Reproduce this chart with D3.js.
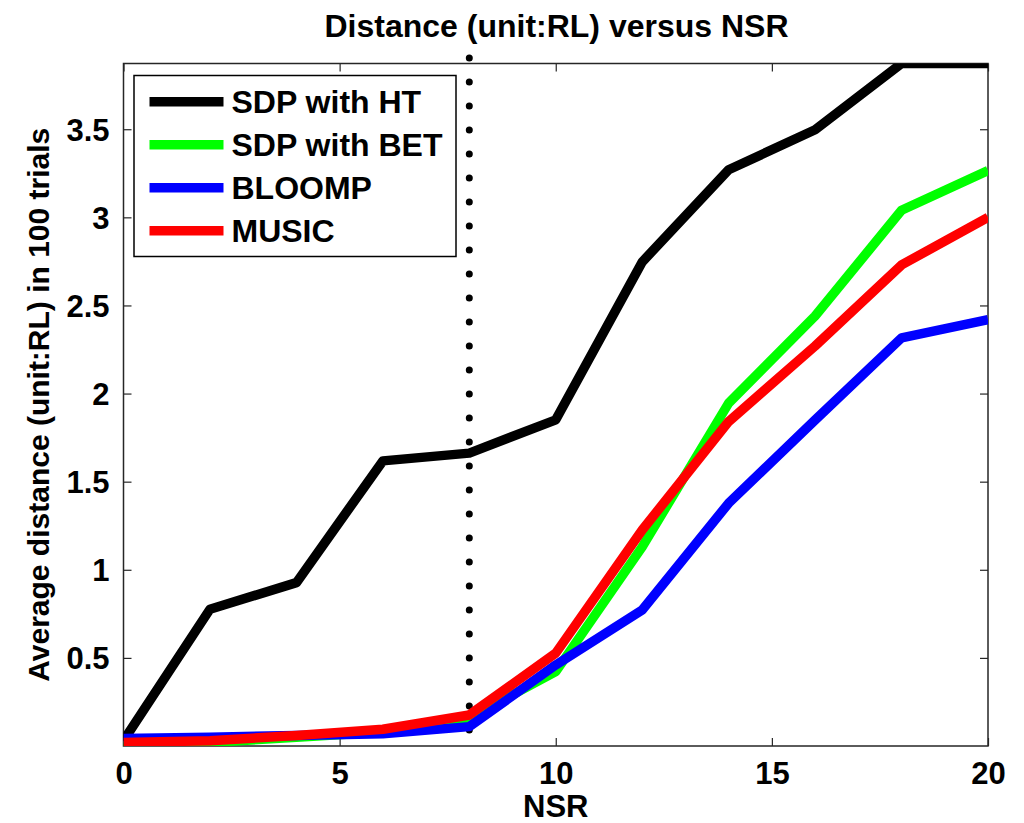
<!DOCTYPE html>
<html><head><meta charset="utf-8">
<script src="https://cdn.jsdelivr.net/npm/d3@7"></script>
<style>body{margin:0;background:#fff}text{font-family:"Liberation Sans",Arial,sans-serif;font-weight:bold;fill:#000}</style>
</head><body><svg id="c" width="1024" height="823"></svg>
<script>
const nsr = [0, 2, 4, 6, 8, 10, 12, 14, 16, 18, 20];
const seriesNames = ["SDP with HT", "SDP with BET", "BLOOMP", "MUSIC"];
const seriesColors = ["#000000", "#00ff00", "#0000ff", "#ff0000"];
const sdpHT  = [0.03, 0.776, 0.927, 1.618, 1.662, 1.851, 2.747, 3.27, 3.497, 3.873, 3.873];
const sdpBET = [0.0, 0.02, 0.05, 0.08, 0.16, 0.422, 1.13, 1.946, 2.44, 3.04, 3.265];
const bloomp = [0.042, 0.05, 0.06, 0.07, 0.11, 0.46, 0.772, 1.378, 1.85, 2.316, 2.42];
const music  = [0.02, 0.03, 0.06, 0.095, 0.176, 0.527, 1.226, 1.841, 2.27, 2.73, 3.0];
const xTicks = [0, 5, 10, 15, 20];
const yTicks = [0.5, 1, 1.5, 2, 2.5, 3, 3.5];
const xDomain = [0, 20];
const yDomain = [0, 3.873];
const vline = {x: 8, y0: 0.091, y1: 3.905};

const svg = d3.select("#c");
const L = 123.5, R = 988, T = 63.5, B = 746;
const x = d3.scaleLinear().domain(xDomain).range([L, R]);
const y = d3.scaleLinear().domain(yDomain).range([B, T]);
const FT = 31, FL = 32;

svg.append("defs").append("clipPath").attr("id","clip")
  .append("rect").attr("x",L).attr("y",T).attr("width",R-L).attr("height",B-T);

const axCol = "#262626";
const gx = svg.append("g").attr("transform",`translate(0,${B})`)
  .call(d3.axisBottom(x).tickValues(xTicks).tickSize(-8).tickPadding(16).tickFormat(d3.format("d")));
const gxt = svg.append("g").attr("transform",`translate(0,${T})`)
  .call(d3.axisTop(x).tickValues(xTicks).tickSize(-8).tickFormat(""));
const gy = svg.append("g").attr("transform",`translate(${L},0)`)
  .call(d3.axisLeft(y).tickValues(yTicks).tickSize(-8).tickPadding(14).tickFormat(d => String(d)));
const gyr = svg.append("g").attr("transform",`translate(${R},0)`)
  .call(d3.axisRight(y).tickValues(yTicks).tickSize(-8).tickFormat(""));
[gx,gxt,gy,gyr].forEach(g => {
  g.select(".domain").remove();
  g.selectAll(".tick line").attr("stroke",axCol).attr("stroke-width",1.2);
  g.selectAll("text").style("font-size",FT+"px").attr("fill","#000");
});
gy.selectAll(".tick text").attr("dy","0.35em");
gx.selectAll(".tick text").attr("dy","0.71em");
svg.append("rect").attr("x",L).attr("y",T).attr("width",R-L).attr("height",B-T)
  .attr("fill","none").attr("stroke",axCol).attr("stroke-width",1.5);

svg.append("line").attr("x1",x(vline.x)).attr("x2",x(vline.x))
  .attr("y1",y(vline.y0)).attr("y2",y(vline.y1))
  .attr("stroke","#000").attr("stroke-width",7).attr("stroke-linecap","round")
  .attr("stroke-dasharray","0 24");

const data = [sdpHT, sdpBET, bloomp, music];
const line = d3.line().x((d,i) => x(nsr[i])).y(d => y(d));
const gl = svg.append("g").attr("clip-path","url(#clip)");
data.forEach((vals, k) => {
  gl.append("path").attr("d", line(vals)).attr("fill","none")
    .attr("stroke", seriesColors[k]).attr("stroke-width",9.5)
    .attr("stroke-linejoin","round");
});

const lg = svg.append("g");
lg.append("rect").attr("x",134).attr("y",75.5).attr("width",322).attr("height",181)
  .attr("fill","#fff").attr("stroke","#000").attr("stroke-width",1.5);
seriesNames.forEach((n,k) => {
  const cy = 101.7 + k*43;
  lg.append("line").attr("x1",149.5).attr("x2",223.5).attr("y1",cy).attr("y2",cy)
    .attr("stroke",seriesColors[k]).attr("stroke-width",9.5);
  lg.append("text").attr("x",231.5).attr("y",cy).attr("dy","0.36em")
    .style("font-size",FL+"px").text(n);
});

svg.append("text").attr("x",556.5).attr("y",36.5).attr("text-anchor","middle")
  .style("font-size",FL+"px").text("Distance (unit:RL) versus NSR");
svg.append("text").attr("x",(L+R)/2).attr("y",816.5).attr("text-anchor","middle")
  .style("font-size",FT+"px").text("NSR");
svg.append("text").attr("transform",`translate(49,${(T+B)/2}) rotate(-90)`)
  .attr("text-anchor","middle").style("font-size","30px")
  .text("Average distance (unit:RL) in 100 trials");
</script></body></html>
